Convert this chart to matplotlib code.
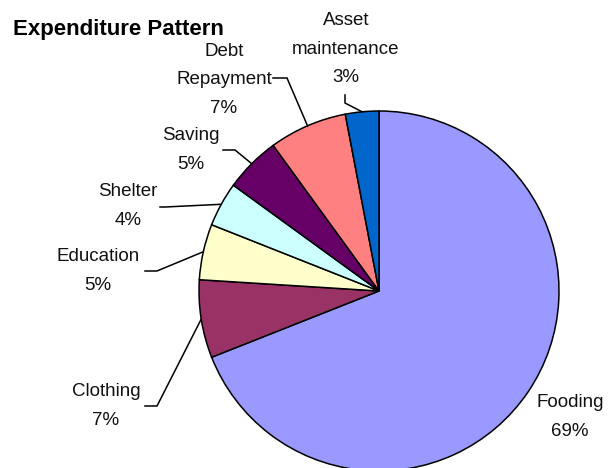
import numpy as np
import matplotlib.pyplot as plt

plt.rcParams['font.family'] = ['Liberation Sans', 'DejaVu Sans']

# expenditure shares, going clockwise from 12 o'clock
categories = ['Fooding', 'Clothing', 'Education', 'Shelter', 'Saving',
              'Debt\nRepayment', 'Asset\nmaintenance']
shares = [69, 7, 5, 4, 5, 7, 3]
colors = ['#9999FF', '#993366', '#FFFFCC', '#CCFFFF', '#660066', '#FF8080', '#0066CC']

W, H = 608, 468
cx, cy, R = 379, 291, 180   # pie centre / radius in pixels (y down)

# label centre and leader line path (start, elbow) in pixels, y down
label_pos = [(570, 417), (106, 406), (98, 271), (128, 206), (191, 150), (224, 80), (346, 49)]
leaders = [None,
           [(145, 406), (157, 406)],
           [(145, 271), (157, 271)],
           [(160, 207), (165, 207)],
           [(223, 150), (235, 150)],
           [(273, 78), (287, 78)],
           [(345, 95), (345, 103)]]

fig = plt.figure(figsize=(W / 100, H / 100), dpi=100)
ax = fig.add_axes([0, 0, 1, 1])

ax.pie(shares, colors=colors, startangle=90, counterclock=False,
       center=(cx, H - cy), radius=R,
       wedgeprops=dict(edgecolor='black', linewidth=1.1))
# pie() resets the limits, so set them afterwards
ax.set_xlim(0, W)
ax.set_ylim(0, H)
ax.set_aspect('equal')
ax.axis('off')

total = float(sum(shares))
cum = np.cumsum([0] + shares)
for i, (name, val) in enumerate(zip(categories, shares)):
    pct = val / total * 100
    tx, ty = label_pos[i]
    ax.text(tx, H - ty, f'{name}\n{pct:.0f}%', ha='center', va='center',
            fontsize=13.5, color='#111111', linespacing=1.9)
    if leaders[i] is None:
        continue
    mid = (cum[i] + cum[i + 1]) / 2 / total * 2 * np.pi
    ex, ey = cx + R * np.sin(mid), cy - R * np.cos(mid)
    pts = leaders[i] + [(ex, ey)]
    ax.plot([p[0] for p in pts], [H - p[1] for p in pts], color='black', lw=1.1,
            solid_joinstyle='miter')

ax.text(13, H - 29, 'Expenditure Pattern', ha='left', va='center',
        fontsize=16, fontweight='bold', color='black')

fig.savefig('out.png', dpi=100)
